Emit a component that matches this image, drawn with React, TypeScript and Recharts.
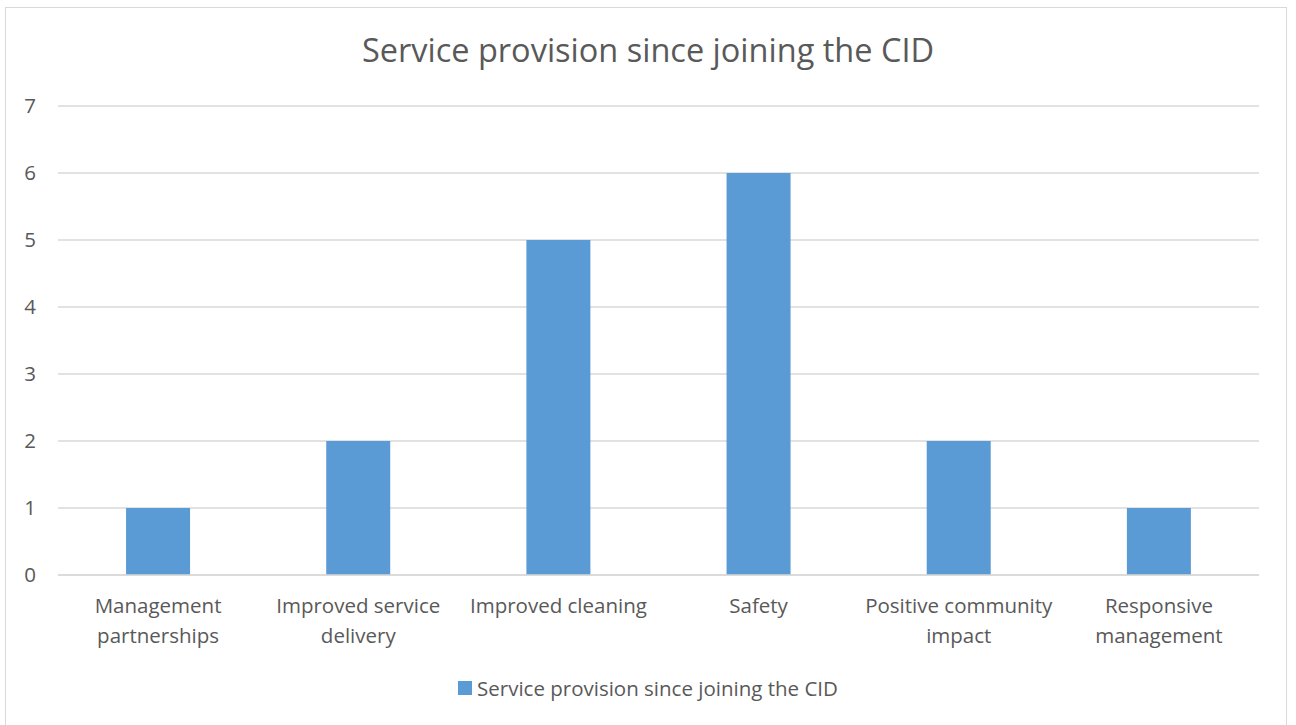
import { BarChart, Bar, XAxis, YAxis, CartesianGrid, Legend } from "recharts";

const CATEGORIES = [
  "Management partnerships",
  "Improved service delivery",
  "Improved cleaning",
  "Safety",
  "Positive community impact",
  "Responsive management",
];
const VALUES = [1, 2, 5, 6, 2, 1];
const Y_TICKS = [0, 1, 2, 3, 4, 5, 6, 7];
const SERIES_NAME = "Service provision since joining the CID";

const data = CATEGORIES.map((label, i) => ({ label, value: VALUES[i] }));

const FONT = "'Open Sans', Lato, sans-serif";
const TEXT = "#595959";
const GRID = "#d9d9d9";
const BAR = "#5b9bd5";

// greedy word wrap, roughly how Excel breaks the category labels
function wrap(label: string, maxChars = 18): string[] {
  const lines: string[] = [];
  let cur = "";
  for (const w of label.split(" ")) {
    const next = cur ? cur + " " + w : w;
    if (next.length > maxChars && cur) {
      lines.push(cur);
      cur = w;
    } else {
      cur = next;
    }
  }
  if (cur) lines.push(cur);
  return lines;
}

function CategoryTick(props: any) {
  const { x, y, payload } = props;
  const lines = wrap(String(payload.value));
  return (
    <text x={x} y={y} textAnchor="middle" fill={TEXT} style={{ fontSize: 20.5, fontFamily: FONT }}>
      {lines.map((ln, i) => (
        <tspan key={i} x={x} dy={i === 0 ? 38 : 30}>
          {ln}
        </tspan>
      ))}
    </text>
  );
}

function LegendContent() {
  return (
    <div style={{ display: "flex", justifyContent: "center", alignItems: "center", fontFamily: FONT, fontSize: 20.5, color: TEXT, height: 23 }}>
      <span style={{ display: "inline-block", width: 14, height: 14, background: BAR, marginRight: 5 }} />
      <span>{SERIES_NAME}</span>
    </div>
  );
}

export default function App() {
  return (
    <div style={{ position: "absolute", left: 0, top: 0, width: 1296, height: 725, background: "#fff", overflow: "hidden" }}>
      <div
        style={{
          position: "absolute",
          left: 5,
          top: 7,
          width: 1282,
          height: 740,
          border: `1px solid ${GRID}`,
          boxSizing: "border-box",
        }}
      />
      <div
        style={{
          position: "absolute",
          left: 0,
          top: 30,
          width: 1296,
          textAlign: "center",
          fontFamily: FONT,
          fontSize: 32.5,
          lineHeight: "40px",
          color: TEXT,
        }}
      >
        {SERIES_NAME}
      </div>
      <div style={{ position: "absolute", left: 0, top: 0 }}>
        <BarChart
          width={1296}
          height={725}
          data={data}
          margin={{ top: 106, right: 37, left: 0, bottom: 77 }}
          barCategoryGap="34%"
        >
          <CartesianGrid vertical={false} stroke={GRID} strokeWidth={1.5} />
          <XAxis
            dataKey="label"
            interval={0}
            tickLine={false}
            tickSize={0}
            tickMargin={0}
            axisLine={{ stroke: GRID, strokeWidth: 1.5 }}
            tick={<CategoryTick />}
            height={50}
          />
          <YAxis
            domain={[0, 7]}
            ticks={Y_TICKS}
            width={58}
            axisLine={false}
            tickLine={false}
            tickSize={0}
            tickMargin={22}
            tick={{ fill: TEXT, fontSize: 20.5, fontFamily: FONT }}
          />
          <Legend
            verticalAlign="bottom"
            content={<LegendContent />}
            wrapperStyle={{ bottom: 26, left: 0, width: 1296 }}
          />
          <Bar dataKey="value" name={SERIES_NAME} fill={BAR} isAnimationActive={false} />
        </BarChart>
      </div>
    </div>
  );
}
